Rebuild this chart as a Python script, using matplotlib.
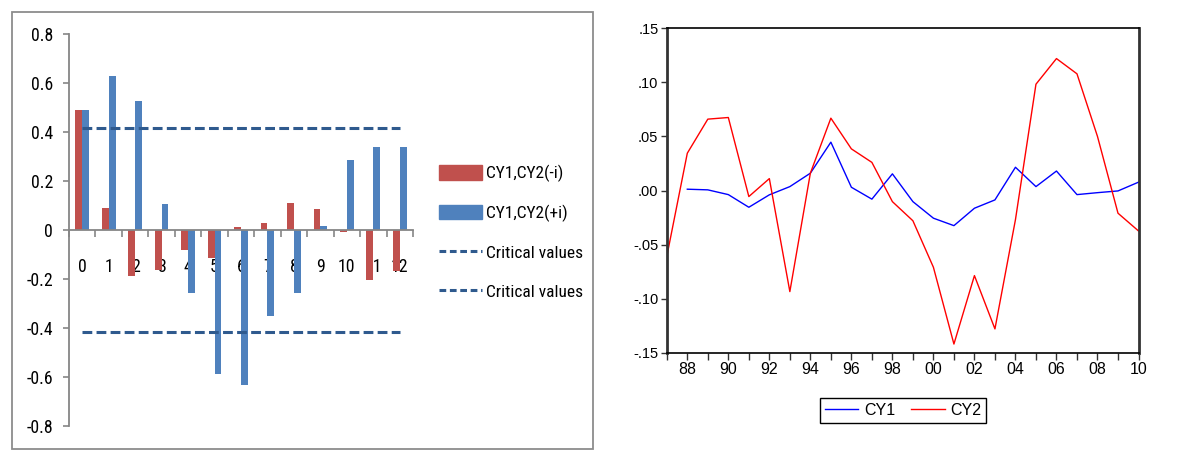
import numpy as np
import matplotlib
matplotlib.use("Agg")
import matplotlib.pyplot as plt
from matplotlib.patches import Rectangle, Patch
from matplotlib.lines import Line2D
from matplotlib.ticker import FixedLocator, FuncFormatter

# cross-correlation bars (left)
lags = np.arange(13)
cy_minus = [0.49, 0.09, -0.19, -0.163, -0.082, -0.116, 0.01, 0.03, 0.111, 0.084, -0.008, -0.204, -0.167]
cy_plus = [0.49, 0.63, 0.528, 0.105, -0.257, -0.587, -0.633, -0.352, -0.257, 0.015, 0.285, 0.34, 0.34]
crit = 0.417

# cycles (right)
years = np.arange(1987, 2011)
cy1 = [np.nan, 0.0012, 0.0006, -0.0038, -0.0155, -0.004, 0.0036, 0.016, 0.0447, 0.003,
       -0.008, 0.0154, -0.0103, -0.0256, -0.0325, -0.0164, -0.0087, 0.0215, 0.0036, 0.018,
       -0.0038, -0.002, -0.0004, 0.0077]
cy2 = [-0.061, 0.0345, 0.066, 0.0675, -0.0056, 0.011, -0.0935, 0.016, 0.0669, 0.0385,
       0.026, -0.0103, -0.028, -0.071, -0.142, -0.0787, -0.128, -0.027, 0.0983, 0.122,
       0.1079, 0.05, -0.021, -0.0374]

narrow = ['Roboto Condensed', 'Liberation Sans Narrow', 'Liberation Sans']
arial = ['Liberation Sans', 'DejaVu Sans']

W, H = 1203, 466
fig = plt.figure(figsize=(W / 100, H / 100), dpi=100)

# outer frame of the excel chart
fig.patches.append(Rectangle((12 / W, 1 - 449 / H), (593 - 12) / W, (449 - 12) / H,
                             transform=fig.transFigure, fill=False, ec='#8c8c8c', lw=1.3))

# ---- left chart ----
ax = fig.add_axes([69 / W, 1 - 425.7 / H, 344 / W, (425.7 - 34) / H])
gray = '#868686'
ax.bar(lags - 0.13, cy_minus, width=0.26, color='#C0504D', zorder=2)
ax.bar(lags + 0.13, cy_plus, width=0.26, color='#4F81BD', zorder=2)
ax.hlines([crit, -crit], 0, 12, colors='#2F5A8E', linestyles=(0, (3.2, 1.4)), lw=2.2, zorder=3)
ax.set_xlim(-0.5, 12.5)
ax.set_ylim(-0.8, 0.8)
for s in ['top', 'right']:
    ax.spines[s].set_visible(False)
ax.spines['left'].set_color(gray)
ax.spines['left'].set_linewidth(1.3)
ax.spines['bottom'].set_position(('data', 0))
ax.spines['bottom'].set_color(gray)
ax.spines['bottom'].set_linewidth(1.3)
ax.set_yticks(np.arange(-0.8, 0.81, 0.2))
ax.set_yticklabels(['-0.8', '-0.6', '-0.4', '-0.2', '0', '0.2', '0.4', '0.6', '0.8'])
ax.tick_params(axis='y', direction='out', length=4.5, width=1.2, color=gray, pad=7, labelsize=12.8)
ax.xaxis.set_major_locator(FixedLocator(np.arange(-0.5, 12.6, 1)))
ax.xaxis.set_major_formatter(FuncFormatter(lambda v, p: ''))
ax.xaxis.set_minor_locator(FixedLocator(lags))
ax.xaxis.set_minor_formatter(FuncFormatter(lambda v, p: str(int(round(v)))))
ax.tick_params(axis='x', which='major', direction='out', length=5, width=1.2, color=gray)
ax.tick_params(axis='x', which='minor', length=0, pad=20, labelsize=12.8)
for t in ax.get_yticklabels() + ax.get_xticklabels(minor=True):
    t.set_family(narrow)

handles = [Patch(color='#C0504D'), Patch(color='#4F81BD'),
           Line2D([], [], color='#2F5A8E', ls=(0, (2.2, 1.2)), lw=2.2),
           Line2D([], [], color='#2F5A8E', ls=(0, (2.2, 1.2)), lw=2.2)]
labels = ['CY1,CY2(-i)', 'CY1,CY2(+i)', 'Critical values', 'Critical values']
fig.legend(handles, labels, loc='upper left', bbox_to_anchor=(439 / W, 1 - 165 / H),
           frameon=False, borderpad=0, borderaxespad=0, handlelength=2.45, handleheight=0.9,
           handletextpad=0.25, labelspacing=1.3, prop={'family': narrow, 'size': 12.5})

# ---- right chart ----
ax2 = fig.add_axes([666.8 / W, 1 - 352.7 / H, (1138.5 - 666.8) / W, 324.4 / H])
l1, = ax2.plot(years, cy1, color='#0000FF', lw=1.0)
l2, = ax2.plot(years, cy2, color='#FF0000', lw=1.0)
ax2.set_xlim(1987, 2010)
ax2.set_ylim(-0.15, 0.15)
yt = np.round(np.arange(-0.15, 0.151, 0.05), 2)
ax2.set_yticks(yt)
ax2.set_yticklabels([('%.2f' % (v + 0.0)).replace('0.', '.') for v in yt])
ax2.xaxis.set_major_locator(FixedLocator(years))
ax2.xaxis.set_major_formatter(FuncFormatter(lambda v, p: '%02d' % (int(v) % 100) if int(v) % 2 == 0 else ''))
ax2.tick_params(axis='y', direction='out', length=4, width=1, color='#333333', pad=2, labelsize=10.5)
ax2.tick_params(axis='x', direction='out', length=5, width=1, color='#333333', pad=2, labelsize=11.5)
for t in ax2.get_xticklabels() + ax2.get_yticklabels():
    t.set_family(arial)
for s in ['left', 'right']:
    ax2.spines[s].set_linewidth(2)
    ax2.spines[s].set_color('#333333')
ax2.spines['top'].set_linewidth(1.2)
ax2.spines['bottom'].set_linewidth(1.2)
fig.legend([l1, l2], ['CY1', 'CY2'], loc='center', bbox_to_anchor=(903 / W, 1 - 410.5 / H),
           ncol=2, fancybox=False, edgecolor='black', framealpha=1, borderpad=0.3,
           handlelength=2.1, handletextpad=0.35, columnspacing=1.0,
           prop={'family': arial, 'size': 11.5}).get_frame().set_linewidth(1)

fig.savefig('out.png', dpi=100)
